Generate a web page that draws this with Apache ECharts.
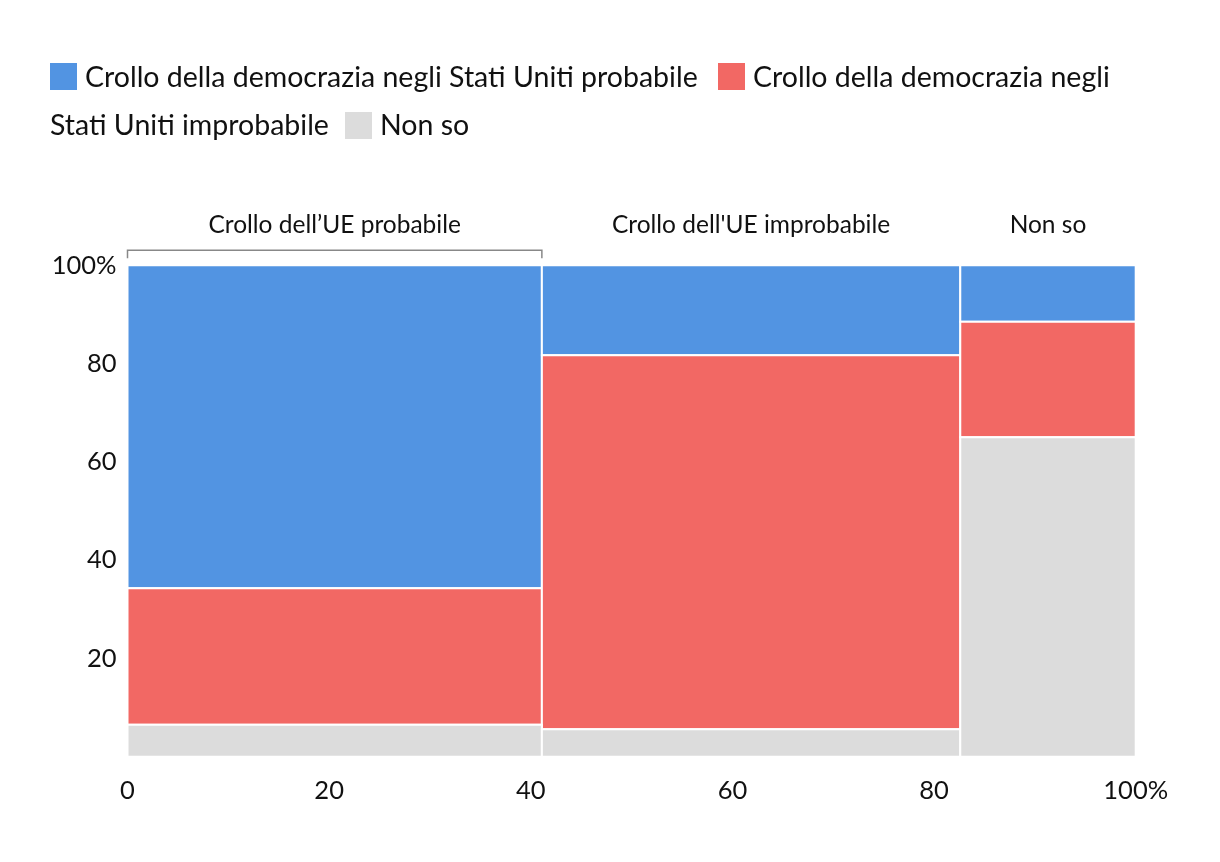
<!DOCTYPE html>
<html>
<head>
<meta charset="utf-8">
<script src="https://cdn.jsdelivr.net/npm/echarts@6/dist/echarts.min.js"></script>
<style>
html,body{margin:0;padding:0;background:#fff;}
#chart{width:1220px;height:862px;}
</style>
</head>
<body>
<div id="chart"></div>
<script>
// ---- data ----
const categories = ['Crollo dell\u2019UE probabile', "Crollo dell'UE improbabile", 'Non so'];
const colWidths = [41.1, 41.5, 17.4];
const seriesNames = [
  'Crollo della democrazia negli Stati Uniti probabile',
  'Crollo della democrazia negli Stati Uniti improbabile',
  'Non so'
];
const usProbabile = [65.7, 18.3, 11.5];
const usImprobabile = [27.8, 76.1, 23.5];
const nonSo = [6.5, 5.6, 65.0];
const xTickLabels = ['0', '20', '40', '60', '80', '100%'];
const yTickLabels = ['0', '20', '40', '60', '80', '100%'];
const colors = ['#5294e2', '#f26864', '#dcdcdc'];

// ---- build ----
const FONT = 'Lato';
const valuesBySeries = [usProbabile, usImprobabile, nonSo];
// stacking order bottom -> top : nonSo, usImprobabile, usProbabile
const stackOrder = [2, 1, 0];
const rects = [[], [], []];
let xStart = 0;
const colCenters = [];
colWidths.forEach((w, ci) => {
  let y = 0;
  stackOrder.forEach(si => {
    const v = valuesBySeries[si][ci];
    rects[si].push([xStart, xStart + w, y, y + v]);
    y += v;
  });
  colCenters.push([xStart + w / 2, ci, xStart, xStart + w]);
  xStart += w;
});

function rectRender(color) {
  return function (params, api) {
    const p0 = api.coord([api.value(0), api.value(3)]);
    const p1 = api.coord([api.value(1), api.value(2)]);
    return {
      type: 'rect',
      shape: { x: p0[0], y: p0[1], width: p1[0] - p0[0], height: p1[1] - p0[1] },
      style: { fill: color, stroke: '#fff', lineWidth: 2 }
    };
  };
}

const series = seriesNames.map((name, si) => ({
  name: name,
  type: 'custom',
  renderItem: rectRender(colors[si]),
  encode: { x: [0, 1], y: [2, 3] },
  data: rects[si]
}));

series.push({
  name: 'colLabels',
  type: 'custom',
  clip: false,
  silent: true,
  encode: { x: [0, 2, 3] },
  renderItem: function (params, api) {
    const ci = api.value(1);
    const c = api.coord([api.value(0), 100]);
    const l = api.coord([api.value(2), 100]);
    const r = api.coord([api.value(3), 100]);
    const children = [{
      type: 'text',
      style: {
        x: c[0], y: c[1] - 40,
        text: categories[ci],
        fill: '#111', font: '24.5px ' + FONT,
        align: 'center', verticalAlign: 'middle'
      }
    }];
    if (ci === 0) {
      children.push({
        type: 'polyline',
        shape: { points: [[l[0], c[1] - 7], [l[0], c[1] - 15], [r[0], c[1] - 15], [r[0], c[1] - 7]] },
        style: { stroke: '#888', lineWidth: 1.5, fill: null }
      });
    }
    return { type: 'group', children: children };
  },
  data: colCenters
});

// legend drawn as text flow (wraps like reference)
const legendFont = '28.5px ' + FONT;
function legendText(x, y, text) {
  return { type: 'text', x: x, y: y, style: { text: text, font: legendFont, fill: '#111', verticalAlign: 'middle' } };
}
const graphic = [
  { type: 'rect', x: 50, y: 63, shape: { width: 27, height: 27 }, style: { fill: colors[0] } },
  legendText(85, 78, seriesNames[0]),
  { type: 'rect', x: 718, y: 63, shape: { width: 27, height: 27 }, style: { fill: colors[1] } },
  legendText(753, 78, 'Crollo della democrazia negli'),
  legendText(50, 126, 'Stati Uniti improbabile'),
  { type: 'rect', x: 345, y: 112, shape: { width: 27, height: 27 }, style: { fill: colors[2] } },
  legendText(380, 126, seriesNames[2])
];

const chart = echarts.init(document.getElementById('chart'), null, { renderer: 'canvas' });
chart.setOption({
  animation: false,
  backgroundColor: '#fff',
  grid: { left: 127.5, right: 84.3, top: 265.3, bottom: 105.3 },
  xAxis: {
    type: 'value', min: 0, max: 100, interval: 20,
    axisLine: { show: false }, axisTick: { show: false }, splitLine: { show: false },
    axisLabel: {
      margin: 21, fontSize: 25.5, fontFamily: FONT, color: '#111',
      formatter: (v) => xTickLabels[Math.round(v / 20)]
    }
  },
  yAxis: {
    type: 'value', min: 0, max: 100, interval: 20,
    axisLine: { show: false }, axisTick: { show: false }, splitLine: { show: false },
    axisLabel: {
      margin: 11, fontSize: 25.5, fontFamily: FONT, color: '#111',
      formatter: (v) => v === 0 ? '' : yTickLabels[Math.round(v / 20)]
    }
  },
  graphic: graphic,
  series: series
});
</script>
</body>
</html>
